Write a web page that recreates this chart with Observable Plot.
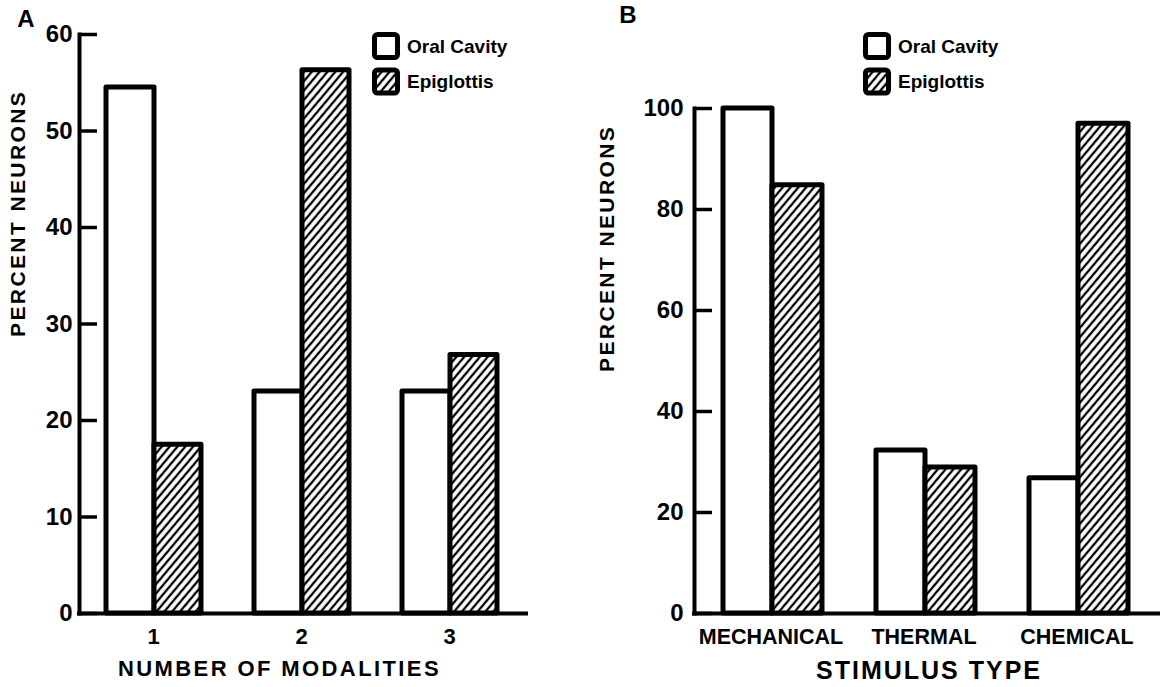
<!DOCTYPE html>
<html><head><meta charset="utf-8">
<script src="https://cdn.jsdelivr.net/npm/d3@7"></script>
<script src="https://cdn.jsdelivr.net/npm/@observablehq/plot@0.6"></script>
<style>
html,body{margin:0;padding:0;background:#fff;}
#wrap{position:relative;width:1162px;height:687px;overflow:hidden;background:#fff;}
#wrap svg{position:absolute;top:0;overflow:visible;}
</style></head><body><div id="wrap"></div>
<script>
// ---- data ----
const series = ["Oral Cavity", "Epiglottis"];
const modalities = ["1", "2", "3"];
const oralA = [54.5, 23, 23];
const epiA = [17.5, 56.3, 26.8];
const yTicksA = [0, 10, 20, 30, 40, 50, 60];
const stimuli = ["MECHANICAL", "THERMAL", "CHEMICAL"];
const oralB = [100, 32.3, 26.8];
const epiB = [84.8, 28.9, 97];
const yTicksB = [0, 20, 40, 60, 80, 100];
const yTitle = "PERCENT NEURONS";
const xTitleA = "NUMBER OF MODALITIES";
const xTitleB = "STIMULUS TYPE";

const FONT = "'Liberation Sans', Arial, sans-serif";
const wrap = document.getElementById("wrap");

function addHatch(svg, id) {
  const defs = d3.select(svg).insert("defs", ":first-child");
  const p = defs.append("pattern").attr("id", id)
    .attr("patternUnits", "userSpaceOnUse")
    .attr("width", 6).attr("height", 6)
    .attr("patternTransform", "rotate(40)");
  p.append("rect").attr("width", 6).attr("height", 6).attr("fill", "white");
  p.append("line").attr("x1", 3).attr("y1", -1).attr("x2", 3).attr("y2", 7)
    .attr("stroke", "black").attr("stroke-width", 2.3);
}

function addLegend(svg, x0, y0, hatchId) {
  const g = d3.select(svg).append("g").attr("transform", `translate(${x0},${y0})`);
  series.forEach((s, i) => {
    const gy = i * 35.5;
    g.append("rect").attr("x", 2.5).attr("y", gy + 2.5).attr("width", 23).attr("height", 23)
      .attr("rx", 3).attr("fill", i ? `url(#${hatchId})` : "white")
      .attr("stroke", "black").attr("stroke-width", 5);
    g.append("text").attr("x", 35).attr("y", gy + 14).attr("dy", "0.36em")
      .attr("text-anchor", "start")
      .attr("font-family", FONT).attr("font-weight", "bold").attr("font-size", 19)
      .text(s);
  });
}

function addLetter(svg, letter, x, y) {
  d3.select(svg).append("text").attr("x", x).attr("y", y).attr("dy", "0.36em")
    .attr("text-anchor", "middle").attr("font-family", FONT).attr("font-weight", "bold")
    .attr("font-size", 24).text(letter);
}

function panel(o) {
  const rows = o.cats.map((c, i) => ({cat: c, oral: o.oral[i], epi: o.epi[i]}));
  const hatchId = o.id + "-hatch";
  const svg = Plot.plot({
    width: o.width, height: 687,
    marginLeft: o.marginLeft, marginRight: o.marginRight, marginTop: o.marginTop, marginBottom: 74,
    style: {fontFamily: FONT, background: "transparent", color: "#000", overflow: "visible"},
    x: {domain: o.cats, padding: 0},
    y: {domain: [0, o.yMax]},
    marks: [
      Plot.barY(rows, {x: "cat", y: "oral", fill: "white", stroke: "black", strokeWidth: 5,
        strokeLinejoin: "round", insetLeft: o.insets[0], insetRight: o.insets[1]}),
      Plot.barY(rows, {x: "cat", y: "epi", fill: `url(#${hatchId})`, stroke: "black", strokeWidth: 5,
        strokeLinejoin: "round", insetLeft: o.insets[2], insetRight: o.insets[3]}),
      Plot.ruleY([0], {stroke: "black", strokeWidth: 4, insetLeft: -2, insetRight: o.extend}),
      Plot.frame({anchor: "left", stroke: "black", strokeWidth: 4}),
      Plot.axisY({ticks: o.yTicks, tickSize: -18, tickPadding: o.tickPad, strokeWidth: 3.5,
        fontSize: 24, fontWeight: "bold", label: null}),
      Plot.axisX({tickSize: 0, tickPadding: 15, fontSize: o.catFont, fontWeight: "bold", label: null}),
      Plot.text([o.xTitle], {frameAnchor: "bottom", dx: o.xTitleDx, dy: o.xTitleDy, lineAnchor: "middle",
        fontSize: o.xTitleFont, fontWeight: "bold", className: "xtitle"}),
      Plot.text([yTitle], {frameAnchor: "left", rotate: -90, dx: o.yTitleDx, dy: o.yTitleDy, lineAnchor: "middle",
        fontSize: 21, fontWeight: "bold", className: "ytitle"})
    ]
  });
  addHatch(svg, hatchId);
  d3.select(svg).selectAll(".xtitle text").style("letter-spacing", o.xTitleLs + "px");
  d3.select(svg).selectAll(".ytitle text").style("letter-spacing", "2.4px");
  svg.style.left = o.left + "px";
  wrap.appendChild(svg);
  addLegend(svg, o.legendX, 32, hatchId);
  addLetter(svg, o.letter, o.letterX, o.letterY);
  return svg;
}

panel({id: "pa", letter: "A", letterX: 26, letterY: 18, left: 0, width: 560,
  marginLeft: 79, marginRight: 37, marginTop: 34, yMax: 60,
  cats: modalities, oral: oralA, epi: epiA, yTicks: yTicksA,
  insets: [27, 73, 75, 26], extend: -5, tickPad: 25, catFont: 22,
  xTitle: xTitleA, xTitleDx: -22, xTitleDy: 55, xTitleFont: 22, xTitleLs: 2.4,
  yTitleDx: -61, yTitleDy: 13, legendX: 372});

panel({id: "pb", letter: "B", letterX: 68, letterY: 14, left: 560, width: 602,
  marginLeft: 134, marginRight: 9, marginTop: 108, yMax: 100,
  cats: stimuli, oral: oralB, epi: epiB, yTicks: yTicksB,
  insets: [29, 75, 78, 25], extend: -7, tickPad: 29, catFont: 21.5,
  xTitle: xTitleB, xTitleDx: 5, xTitleDy: 57, xTitleFont: 25, xTitleLs: 2,
  yTitleDx: -87, yTitleDy: 11, legendX: 303});
</script>
</body></html>
